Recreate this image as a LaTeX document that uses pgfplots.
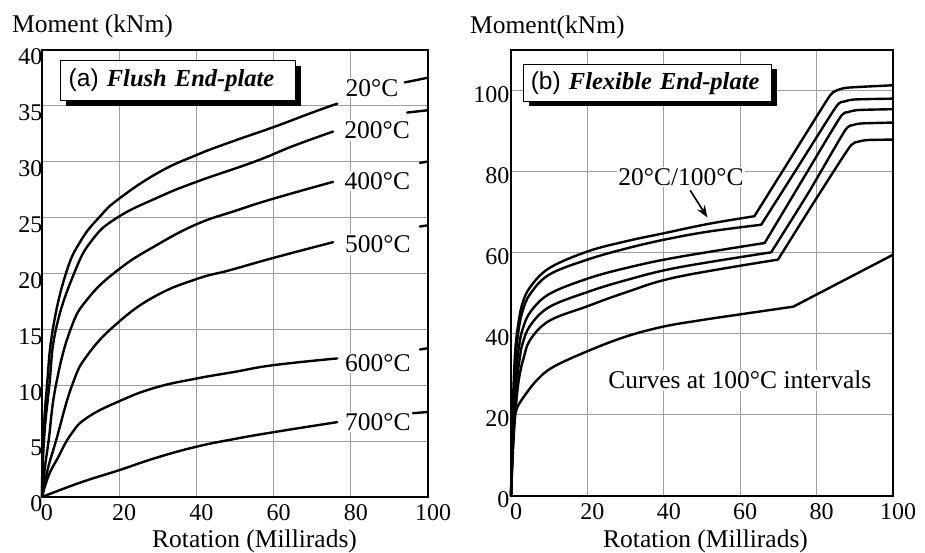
\documentclass[border=0pt]{standalone}
\usepackage{fontspec}
\setmainfont{Liberation Serif}
\newfontfamily\arial{Liberation Sans}
\usepackage{pgfplots}
\pgfplotsset{compat=1.18}
\usetikzlibrary{shadows,arrows.meta}
\pgfplotsset{
  common/.style={
    scale only axis,
    clip=false,
    xmin=0,xmax=100,
    xtick={0,20,...,100},
    grid=major,
    major grid style={draw=gray!75, line width=0.9bp},
    axis line style={line width=2.6bp},
    major tick length=0pt,
    tick label style={font=\fontsize{24bp}{27bp}\selectfont},
    /pgf/number format/assume math mode=true,
    xticklabel style={yshift=-4bp, xshift=5bp},
  },
}
\tikzset{
  crv/.style={black, line width=2.4bp, line join=round, line cap=round},
  lbl/.style={fill=white, inner sep=1.5bp, font=\fontsize{25.5bp}{28bp}\selectfont},
  ttl/.style={anchor=base west, inner sep=0pt, font=\fontsize{25.5bp}{28bp}\selectfont},
}
\begin{document}
\begin{tikzpicture}
\path[use as bounding box] (0bp,0bp) rectangle (925bp,553bp);
% ---------- panel (a)
\begin{axis}[common, at={(42bp,56bp)}, anchor=south west,
  width=386bp, height=447bp, ymin=0, ymax=40, ytick={0,5,...,40},
  yticklabel style={xshift=4bp, yshift=-7bp}]
% 20 C
\addplot[crv, smooth, tension=0.75] coordinates {(0,0) (0.3,5) (1.3,10) (2.8,15) (6.2,20) (10,22.9) (15,25.1) (20,26.7) (30,29) (40,30.6) (50,31.9) (60,33.1) (70,34.4) (76.5,35.2)};
\addplot[crv] coordinates {(94,37.1) (99.7,37.5)};
% 200 C
\addplot[crv, smooth, tension=0.75] coordinates {(0,0) (0.5,5) (1.9,10) (3.6,15) (8.3,20) (13,23) (19.5,25) (30,26.8) (40,28.2) (55,30.0) (65,31.4) (75.4,32.7)};
\addplot[crv] coordinates {(94.6,34.4) (99.7,34.6)};
% 400 C
\addplot[crv, smooth, tension=0.75] coordinates {(0,0) (0.7,2.5) (1.7,5) (3.6,10) (7.4,15) (12,17.8) (20,20.4) (29.5,22.5) (40,24.4) (50,25.6) (60,26.7) (75.4,28.2)};
\addplot[crv] coordinates {(97.9,29.9) (99.7,30.0)};
% 500 C
\addplot[crv, smooth, tension=0.75] coordinates {(0,0) (1.5,2.5) (3.6,5) (7.8,10) (12,12.8) (20,15.7) (29.5,18.0) (40,19.5) (48.7,20.3) (60,21.4) (75.4,22.8)};
\addplot[crv] coordinates {(97.9,24.2) (99.7,24.3)};
% 600 C
\addplot[crv, smooth, tension=0.75] coordinates {(0,0) (1.7,1.9) (4.1,3.5) (7.5,5.6) (11.7,7.1) (20.2,8.6) (29.5,9.8) (40,10.6) (50,11.2) (60,11.8) (76.5,12.4)};
\addplot[crv] coordinates {(97.9,13.2) (99.7,13.3)};
% 700 C
\addplot[crv, smooth, tension=0.75] coordinates {(0,0) (10,1.3) (20,2.4) (29.5,3.5) (40,4.5) (50,5.2) (60,5.8) (76.5,6.7)};
\addplot[crv] coordinates {(96.1,7.5) (99.7,7.6)};
\node[lbl] at (axis cs:85.5,36.6) {20°C};
\node[lbl] at (axis cs:86.8,32.8) {200°C};
\node[lbl] at (axis cs:86.9,28.3) {400°C};
\node[lbl] at (axis cs:87,22.6) {500°C};
\node[lbl] at (axis cs:87,12.0) {600°C};
\node[lbl] at (axis cs:87,6.7) {700°C};
\node[draw, line width=1.2bp, fill=white,
  drop shadow={shadow xshift=5bp, shadow yshift=-5bp, fill=black, opacity=1},
  anchor=north west, inner xsep=8bp, inner ysep=0pt, text width=219bp,
  minimum height=40bp, align=left, font=\fontsize{24.5bp}{28bp}\selectfont]
  at (axis cs:4.7,39.1) {{\arial (a)}\ \textbf{\textit{Flush End-plate}}};
\end{axis}
% ---------- panel (b)
\begin{axis}[common, at={(511bp,57bp)}, anchor=south west,
  width=382bp, height=446bp, ymin=0, ymax=110, ytick={0,20,...,100},
  yticklabel style={xshift=2bp, yshift=-4bp}]
% curve 1 (20/100 C)
\addplot[crv, smooth, tension=0.6] coordinates {(0,0) (0.3,15) (0.7,28) (1.2,37) (2,43) (3,47.5) (5,51.5) (10,56.2) (20,60.3) (30,62.8) (40,64.8) (51.6,67.1) (63.7,69.0)};
\addplot[crv, smooth, tension=0.35] coordinates {(63.7,69.0) (73,83) (83.1,98.2) (85,99.9) (88,100.7) (100,101.3)};
% curve 2
\addplot[crv, smooth, tension=0.6] coordinates {(0,0) (0.35,14) (0.8,26) (1.3,35) (2,41) (3,45.5) (5,49.8) (10,54.6) (20,58.3) (30,61) (40,63.2) (51.6,65.2) (65.5,66.9)};
\addplot[crv, smooth, tension=0.35] coordinates {(65.5,66.9) (75,81) (85.1,96.0) (87.3,97.3) (90,97.8) (100,98.0)};
% curve 3
\addplot[crv, smooth, tension=0.6] coordinates {(0,0) (0.4,13) (0.9,24) (1.5,32) (2.2,37.5) (3,41) (5,45.3) (10,49.8) (20,53.6) (30,56.2) (43,58.8) (66.4,62.4)};
\addplot[crv, smooth, tension=0.35] coordinates {(66.4,62.4) (76,77.5) (86.1,93.3) (88.3,94.7) (91,95.2) (100,95.4)};
% curve 4
\addplot[crv, smooth, tension=0.6] coordinates {(0,0) (0.45,12) (1,22) (1.6,29) (2.3,34) (3,37.5) (5,42) (10,46.6) (20,50.3) (30,53.2) (43.4,56.3) (68.1,60.1)};
\addplot[crv, smooth, tension=0.35] coordinates {(68.1,60.1) (78,75) (87.4,90.1) (89.6,91.5) (92,91.9) (100,92.1)};
% curve 5
\addplot[crv, smooth, tension=0.6] coordinates {(0,0) (0.5,11) (1.1,20) (1.8,27) (2.5,31) (3.3,34) (5,38.5) (10,43.2) (20,46.8) (30,50.2) (43.4,54.0) (69.9,58.3)};
\addplot[crv, smooth, tension=0.35] coordinates {(69.9,58.3) (79,72) (88.6,86.0) (91,87.4) (93.5,87.8) (100,87.9)};
% curve 6 (lowest)
\addplot[crv, smooth, tension=0.6] coordinates {(0,0) (0.4,10) (0.8,18) (1.5,21.5) (3.3,24.4) (6.8,28.6) (11,31.8) (20,35.7) (30,39.3) (40,41.8) (50,43.4) (60,44.8) (73.9,46.7)};
\addplot[crv] coordinates {(73.9,46.7) (100,59.5)};
% arrow
\addplot[black, line width=1.6bp, -{Stealth[length=12bp,width=9bp]}] coordinates {(46.9,75.4) (51.4,68.7)};
\node[lbl] at (axis cs:44.5,78.6) {20°C/100°C};
\node[lbl] at (axis cs:59.9,28.6) {Curves at 100°C intervals};
\node[draw, line width=1.2bp, fill=white,
  drop shadow={shadow xshift=5bp, shadow yshift=-5bp, fill=black, opacity=1},
  anchor=north west, inner xsep=7bp, inner ysep=0pt, text width=234bp,
  minimum height=37bp, align=left, font=\fontsize{24.5bp}{28bp}\selectfont]
  at (axis cs:3.2,106.6) {{\arial (b)}\ \textbf{\textit{Flexible End-plate}}};
\end{axis}
% axis titles
\node[ttl] at (12bp,520bp) {Moment (kNm)};
\node[ttl] at (470bp,519bp) {Moment(kNm)};
\node[ttl] at (152bp,6bp) {Rotation (Millirads)};
\node[ttl] at (603bp,6bp) {Rotation (Millirads)};
\end{tikzpicture}
\end{document}
